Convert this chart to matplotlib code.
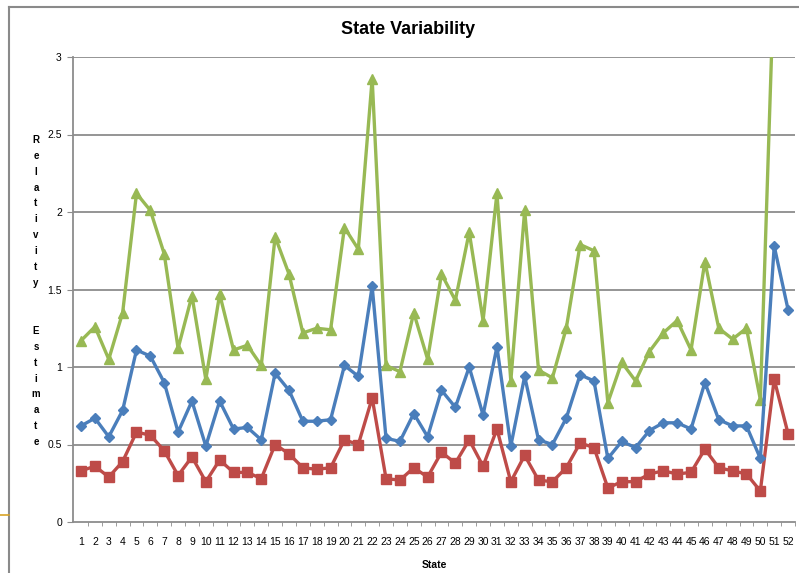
import matplotlib
matplotlib.use('Agg')
import matplotlib.pyplot as plt
from matplotlib.lines import Line2D
import numpy as np

# values
states = list(range(1, 53))

blue_vals = [0.62, 0.67, 0.55, 0.72, 1.11, 1.07, 0.90, 0.58, 0.78, 0.49,
             0.78, 0.60, 0.61, 0.53, 0.96, 0.85, 0.65, 0.65, 0.66, 1.01,
             0.94, 1.52, 0.54, 0.52, 0.70, 0.55, 0.85, 0.74, 1.00, 0.69,
             1.13, 0.49, 0.94, 0.53, 0.50, 0.67, 0.95, 0.91, 0.41, 0.52,
             0.48, 0.59, 0.64, 0.64, 0.60, 0.90, 0.66, 0.62, 0.62, 0.41,
             1.78, 1.37]

red_vals = [0.33, 0.36, 0.29, 0.39, 0.58, 0.56, 0.46, 0.30, 0.42, 0.26,
            0.40, 0.32, 0.32, 0.28, 0.50, 0.44, 0.35, 0.34, 0.35, 0.53,
            0.50, 0.80, 0.28, 0.27, 0.35, 0.29, 0.45, 0.38, 0.53, 0.36,
            0.60, 0.26, 0.43, 0.27, 0.26, 0.35, 0.51, 0.48, 0.22, 0.26,
            0.26, 0.31, 0.33, 0.31, 0.32, 0.47, 0.35, 0.33, 0.31, 0.20,
            0.92, 0.57]

green_vals = [1.17, 1.26, 1.05, 1.35, 2.12, 2.01, 1.73, 1.12, 1.46, 0.92,
              1.47, 1.11, 1.14, 1.01, 1.84, 1.60, 1.22, 1.25, 1.24, 1.90,
              1.76, 2.86, 1.01, 0.97, 1.35, 1.05, 1.60, 1.43, 1.87, 1.30,
              2.12, 0.91, 2.01, 0.98, 0.93, 1.25, 1.79, 1.75, 0.77, 1.03,
              0.91, 1.10, 1.22, 1.30, 1.11, 1.68, 1.25, 1.18, 1.25, 0.79,
              3.55, 3.30]

y_ticks = [0, 0.5, 1, 1.5, 2, 2.5, 3]
y_label = "Relativity  Estimate"

plt.rcParams['font.family'] = ['Liberation Sans Narrow', 'Liberation Sans', 'DejaVu Sans']

W, H = 799, 573
fig = plt.figure(figsize=(W / 100, H / 100), dpi=100)
fig.patch.set_facecolor('white')

ax = fig.add_axes([73 / W, (H - 522) / H, (795 - 73) / W, (522 - 57) / H])

grid_col = '#8c8c8c'
for v in y_ticks[1:]:
    ax.axhline(v, color=grid_col, lw=1.3, zorder=1)

ax.plot(states, blue_vals, color='#4A7EBB', lw=2.4, marker='D', ms=5.5,
        zorder=4)
ax.plot(states, red_vals, color='#BE4B48', lw=2.4, marker='s', ms=6.5,
        zorder=3)
ax.plot(states, green_vals, color='#98B954', lw=2.4, marker='^', ms=7.5,
        zorder=2)

ax.set_xlim(0.42, 52.5)
ax.set_ylim(0, 3)

for s in ['top', 'right']:
    ax.spines[s].set_visible(False)
for s in ['left', 'bottom']:
    ax.spines[s].set_color(grid_col)
    ax.spines[s].set_linewidth(1.3)

ax.set_yticks(y_ticks)
ax.set_yticklabels(['0', '0.5', '1', '1.5', '2', '2.5', '3'])
ax.tick_params(axis='y', length=4, color=grid_col, labelsize=7.5, pad=4)

ax.set_xticks(states)
ax.set_xticklabels([str(s) for s in states])
ax.tick_params(axis='x', which='major', length=0, labelsize=7.5, pad=11)
ax.set_xticks([s + 0.5 for s in states], minor=True)
ax.tick_params(axis='x', which='minor', length=3, color=grid_col)

ax.set_xlabel('State', fontsize=7.5, fontweight='bold', labelpad=9)

fig.text(408 / W, 1 - 30 / H, 'State Variability', ha='center', va='center',
         fontsize=13, fontweight='bold', family=['Liberation Sans', 'DejaVu Sans'])

stacked = "\n".join(ch if ch != ' ' else '' for ch in y_label)
fig.text(36 / W, 1 - 291 / H, stacked, ha='center', va='center',
         fontsize=7, fontweight='bold', linespacing=1.74)

# surrounding frame lines from the screenshot
fig.add_artist(Line2D([9 / W, 1], [1 - 7 / H, 1 - 7 / H], color='#8a8a8a', lw=1.5))
fig.add_artist(Line2D([9 / W, 9 / W], [0, 1 - 7 / H], color='#8a8a8a', lw=1.5))
fig.add_artist(Line2D([0, 9 / W], [1 - 515 / H, 1 - 515 / H], color='#D8A326', lw=1.2))

fig.savefig('out.png', dpi=100)
